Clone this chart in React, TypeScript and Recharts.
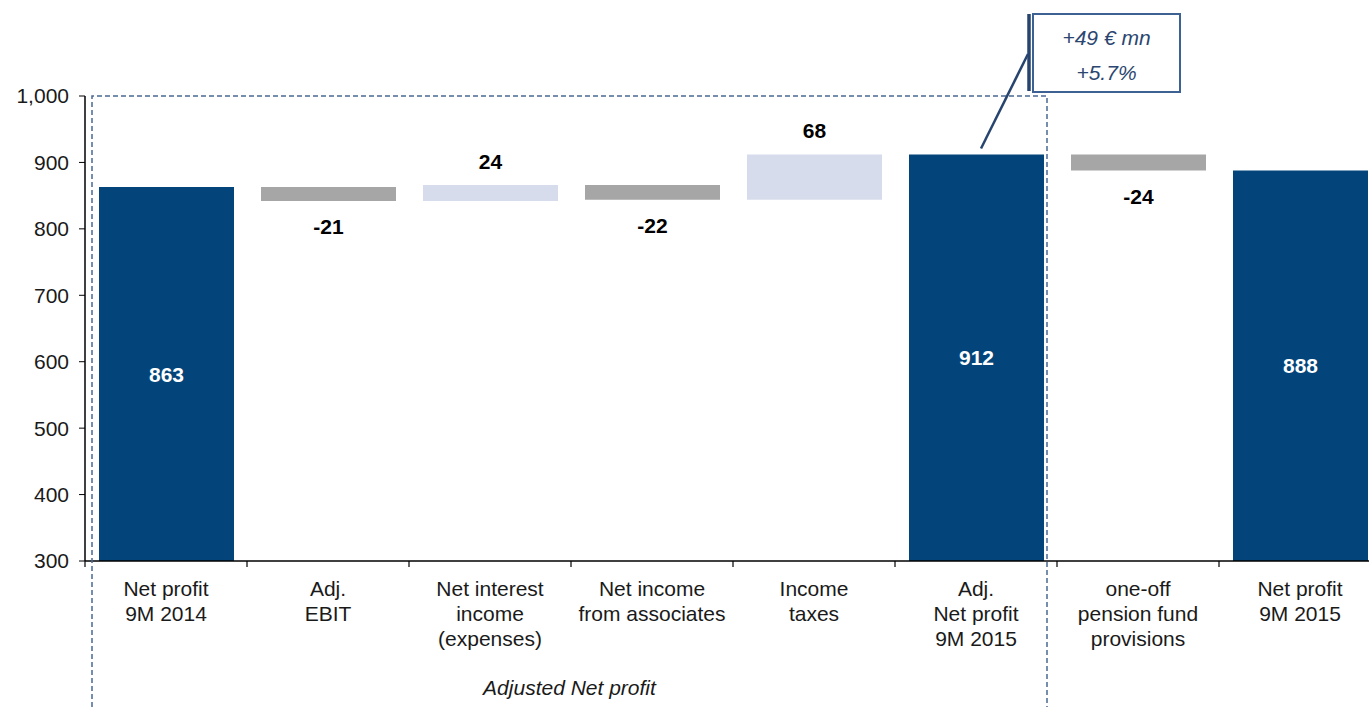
import { Bar, BarChart, Cell, LabelList, XAxis, YAxis } from 'recharts';

const categories = [
  'Net profit\n9M 2014',
  'Adj.\nEBIT',
  'Net interest\nincome\n(expenses)',
  'Net income\nfrom associates',
  'Income\ntaxes',
  'Adj.\nNet profit\n9M 2015',
  'one-off\npension fund\nprovisions',
  'Net profit\n9M 2015',
];
const steps = [863, -21, 24, -22, 68, 912, -24, 888];
const kinds = ['total', 'delta', 'delta', 'delta', 'delta', 'total', 'delta', 'total'];
const yTicks = [300, 400, 500, 600, 700, 800, 900, 1000];
const calloutLines = ['+49 € mn', '+5.7%'];
const groupLabel = 'Adjusted Net profit';

const AXIS_MIN = 300;
const AXIS_MAX = 1000;

// layout
const FONT = '"Liberation Sans", Arial, sans-serif';
const CHART_W = 1385;
const CHART_H = 707;
const PLOT_LEFT = 85;
const PLOT_TOP = 96;
const PLOT_BOTTOM = 561;
const CAT_W = 162;

const DARK = '#03457A';
const GREY = '#A6A6A6';
const LIGHT = '#D6DCEC';
const FRAME = '#4A6892';

// waterfall ranges
let running = 0;
const data = categories.map((name, i) => {
  const v = steps[i];
  let range: [number, number];
  if (kinds[i] === 'total') {
    range = [AXIS_MIN, v];
    running = v;
  } else {
    const next = running + v;
    range = [Math.min(running, next), Math.max(running, next)];
    running = next;
  }
  return { name, range, value: v, kind: kinds[i] };
});

const yPix = (v: number) =>
  PLOT_TOP + ((AXIS_MAX - v) * (PLOT_BOTTOM - PLOT_TOP)) / (AXIS_MAX - AXIS_MIN);

function CategoryTick(props: any) {
  const { x, y, payload } = props;
  const lines = String(payload.value).split('\n');
  const bx = x - CAT_W / 2;
  return (
    <g>
      <line x1={bx} x2={bx} y1={y} y2={y + 6} stroke="#000" strokeWidth={1.2} />
      {lines.map((l, i) => (
        <text
          key={i}
          x={x}
          y={y + 27 + i * 25}
          textAnchor="middle"
          dominantBaseline="central"
          fontSize={21}
          fontFamily={FONT}
          fill="#1a1a1a"
        >
          {l}
        </text>
      ))}
    </g>
  );
}

function ValueLabel(props: any) {
  const { x, y, width, height, index } = props;
  const d = data[index];
  const top = Math.min(y, y + height);
  const bottom = Math.max(y, y + height);
  const cx = x + width / 2;
  if (d.kind === 'total') {
    return (
      <text
        x={cx}
        y={(top + bottom) / 2}
        textAnchor="middle"
        dominantBaseline="central"
        fontSize={21}
        fontWeight="bold"
        fontFamily={FONT}
        fill="#fff"
      >
        {d.value}
      </text>
    );
  }
  const ly = d.value >= 0 ? top - 24 : bottom + 26;
  return (
    <text
      x={cx}
      y={ly}
      textAnchor="middle"
      dominantBaseline="central"
      fontSize={21}
      fontWeight="bold"
      fontFamily={FONT}
      fill="#000"
    >
      {d.value > 0 ? d.value : `-${Math.abs(d.value)}`}
    </text>
  );
}

function Overlay() {
  const boxLeft = PLOT_LEFT + 7;
  const boxRight = PLOT_LEFT + CAT_W * 6 - 10;
  const adjTop = yPix(steps[5]);
  const adjCx = PLOT_LEFT + CAT_W * 5.5;
  const cLeft = 1033;
  const cRight = 1180;
  const cTop = 14;
  const cBottom = 92;
  return (
    <svg
      width={CHART_W}
      height={CHART_H}
      style={{ position: 'absolute', left: 0, top: 0, pointerEvents: 'none' }}
    >
      <path
        d={`M${boxLeft},${CHART_H} L${boxLeft},${PLOT_TOP} L${boxRight},${PLOT_TOP} L${boxRight},${CHART_H}`}
        fill="none"
        stroke={FRAME}
        strokeWidth={1.5}
        strokeDasharray="5 3"
      />
      <text
        x={(boxLeft + boxRight) / 2}
        y={687}
        textAnchor="middle"
        dominantBaseline="central"
        fontSize={21}
        fontStyle="italic"
        fontFamily={FONT}
        fill="#1a1a1a"
      >
        {groupLabel}
      </text>
      <line x1={adjCx + 5} y1={adjTop - 6} x2={cLeft - 5} y2={54} stroke="#27446E" strokeWidth={2.5} />
      <line x1={cLeft - 4} x2={cLeft - 4} y1={cTop} y2={cBottom - 1} stroke="#27446E" strokeWidth={3.5} />
      <rect
        x={cLeft}
        y={cTop}
        width={cRight - cLeft}
        height={cBottom - cTop}
        fill="#fff"
        stroke="#3E6194"
        strokeWidth={2}
      />
      {calloutLines.map((t, i) => (
        <text
          key={i}
          x={(cLeft + cRight) / 2}
          y={37 + i * 35}
          textAnchor="middle"
          dominantBaseline="central"
          fontSize={21}
          fontStyle="italic"
          fontFamily={FONT}
          fill="#2B4670"
        >
          {t}
        </text>
      ))}
    </svg>
  );
}

export default function App() {
  return (
    <div
      style={{
        position: 'absolute',
        left: 0,
        top: 0,
        width: 1369,
        height: 707,
        overflow: 'hidden',
        background: '#fff',
      }}
    >
      <BarChart
        width={CHART_W}
        height={CHART_H}
        data={data}
        margin={{ top: PLOT_TOP, right: CHART_W - PLOT_LEFT - CAT_W * 8, bottom: 0, left: 0 }}
      >
        <XAxis
          dataKey="name"
          interval={0}
          tickLine={false}
          tickSize={0}
          tickMargin={0}
          axisLine={{ stroke: '#000', strokeWidth: 1.5 }}
          tick={<CategoryTick />}
          height={CHART_H - PLOT_BOTTOM}
        />
        <YAxis
          width={PLOT_LEFT}
          domain={[AXIS_MIN, AXIS_MAX]}
          ticks={yTicks}
          interval={0}
          allowDataOverflow
          tickSize={6}
          tickMargin={10}
          tickLine={{ stroke: '#000' }}
          axisLine={{ stroke: '#000', strokeWidth: 1.5 }}
          tickFormatter={(v: number) => v.toLocaleString('en-US')}
          tick={{ fontSize: 21, fontFamily: FONT, fill: '#1a1a1a' }}
        />
        <Bar dataKey="range" barSize={135} isAnimationActive={false}>
          {data.map((d, i) => (
            <Cell
              key={i}
              fill={d.kind === 'total' ? DARK : d.value < 0 ? GREY : LIGHT}
            />
          ))}
          <LabelList dataKey="range" content={<ValueLabel />} />
        </Bar>
      </BarChart>
      <Overlay />
    </div>
  );
}
